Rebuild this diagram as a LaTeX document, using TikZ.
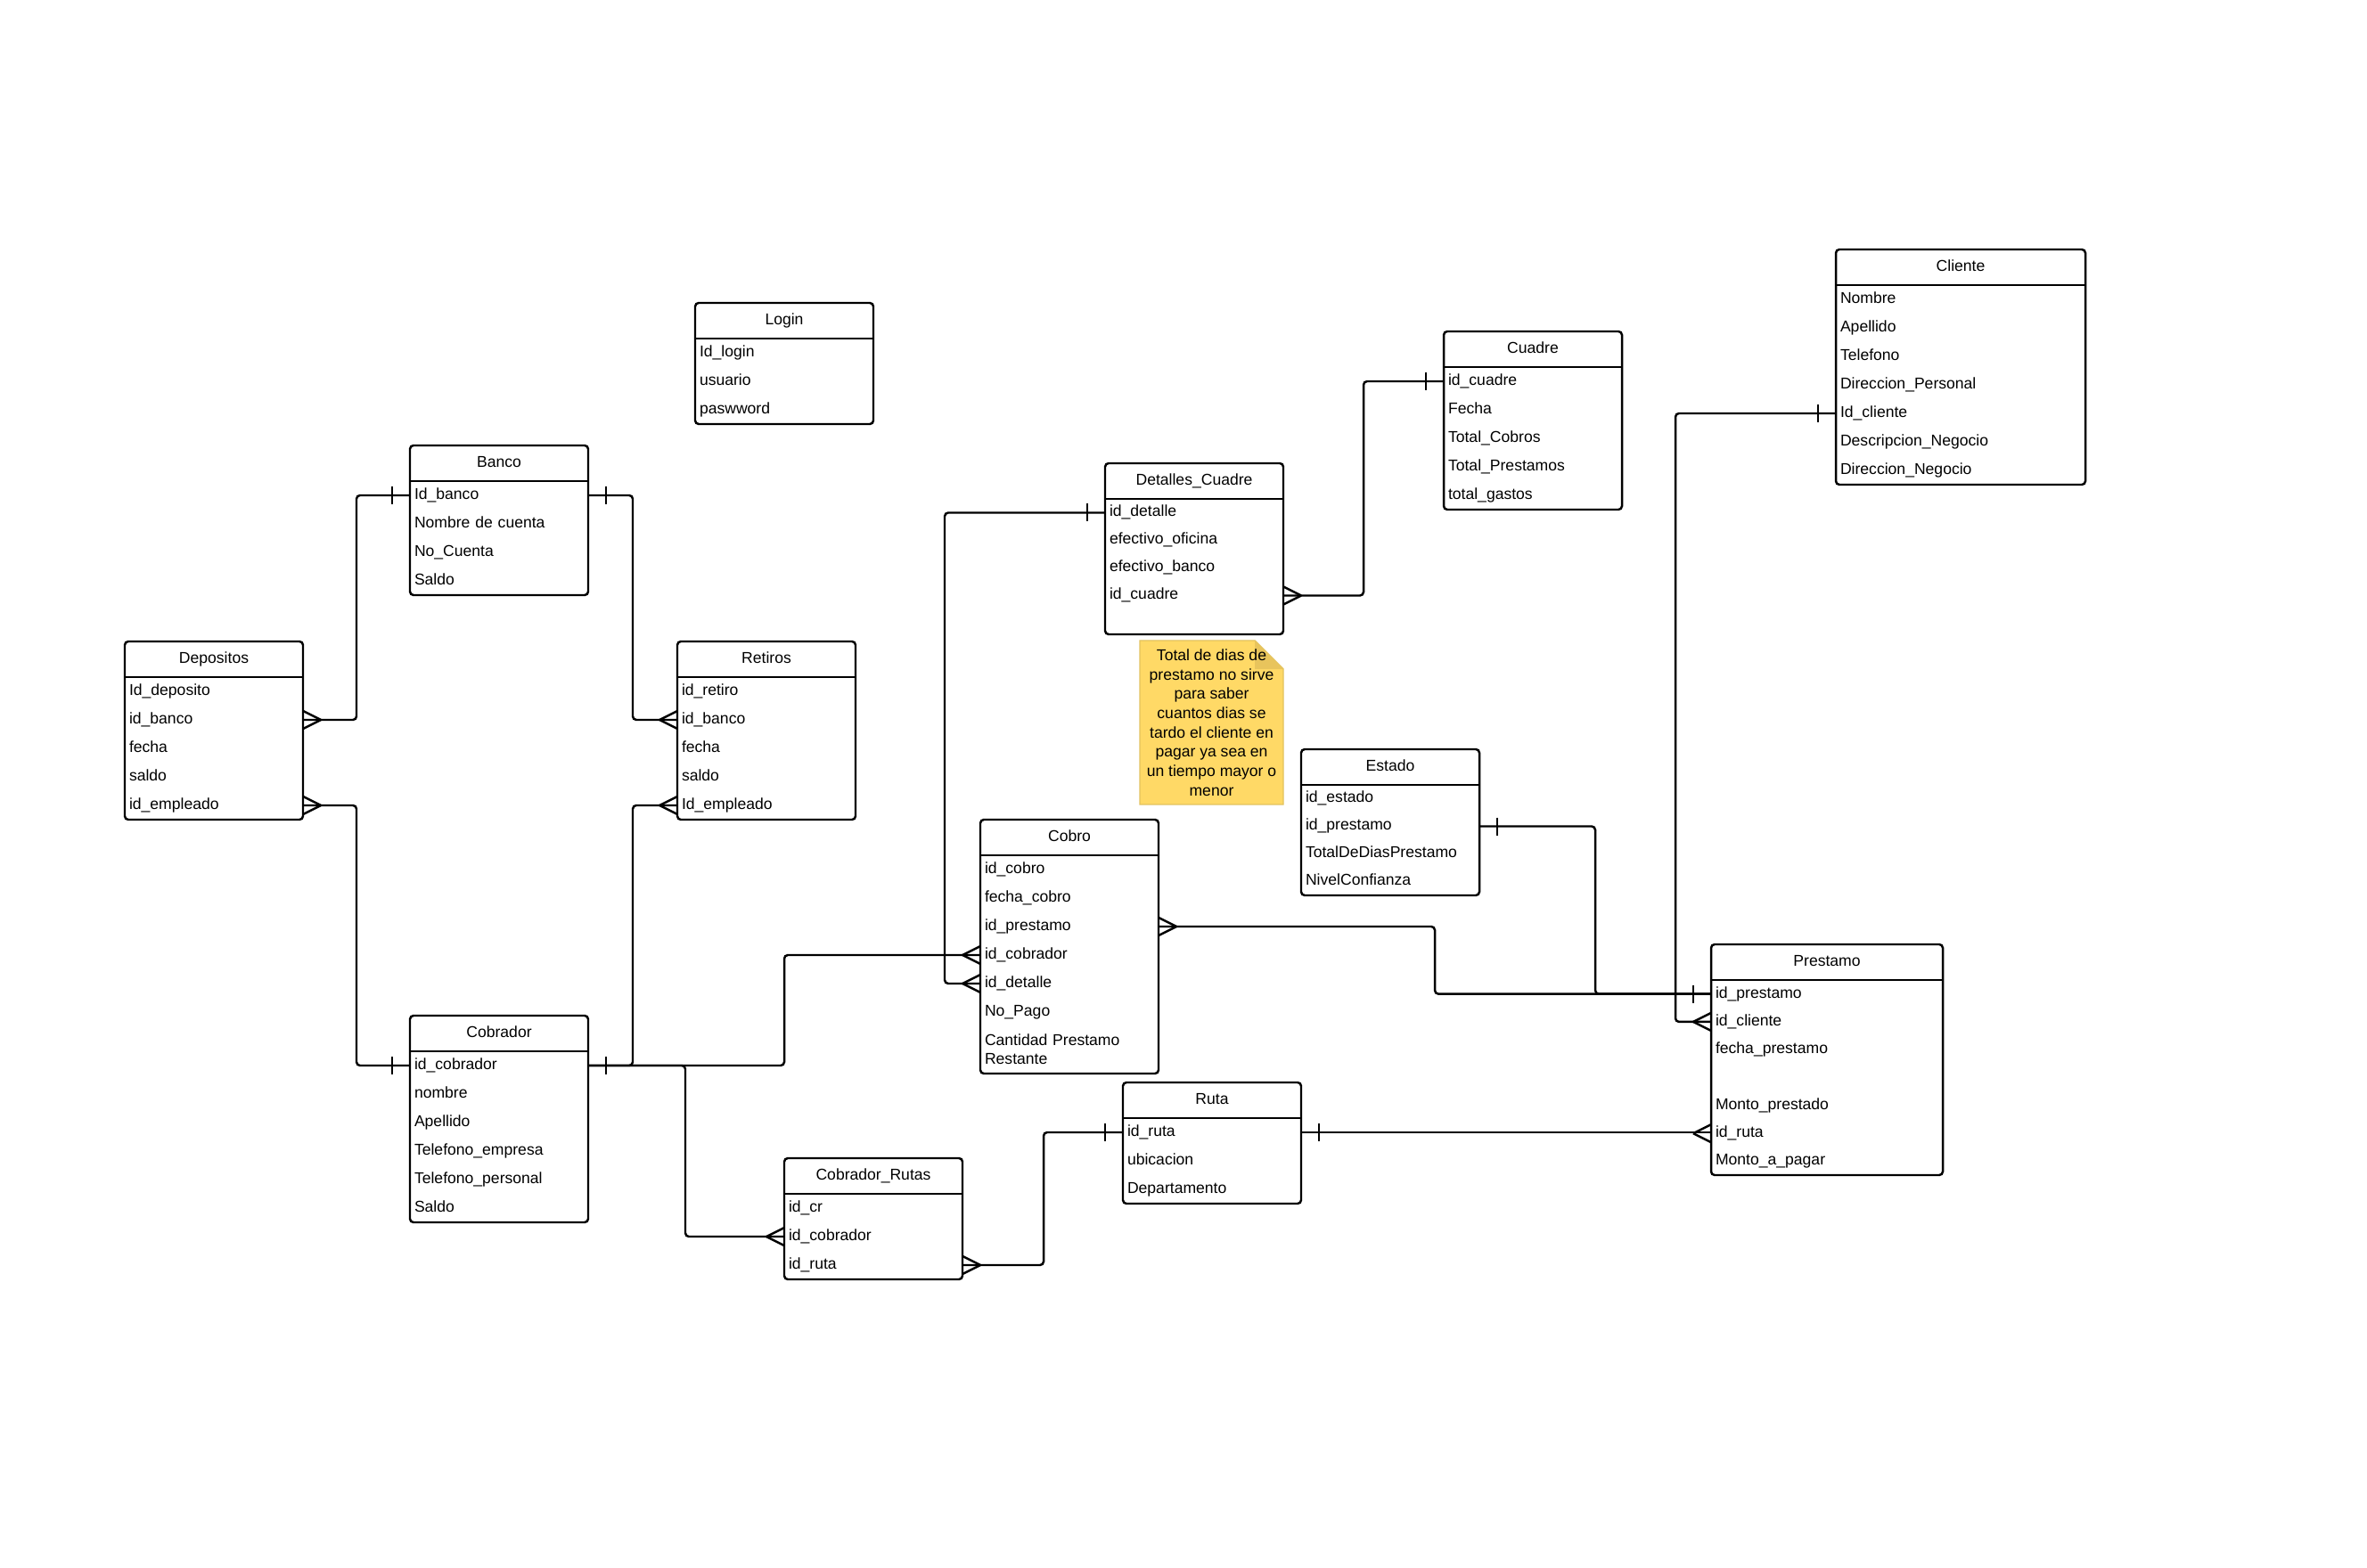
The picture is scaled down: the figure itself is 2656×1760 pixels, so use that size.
\documentclass[tikz,border=0pt]{standalone}
\usepackage{fontspec}
\setmainfont{Liberation Sans}
\usetikzlibrary{shapes,arrows,calc,positioning}
\tikzstyle{box} = [draw, line width=0.7pt, rounded corners=0.4mm]
\tikzstyle{header} = [inner sep=0, outer sep=0, minimum height=4mm, font=\fontsize{5}{6}\selectfont, execute at begin node=\strut]
\tikzstyle{field} = [inner xsep=0.5mm, inner ysep=0, outer sep=0, minimum height=3.2mm, align=left, font=\fontsize{5}{6.2}\selectfont, execute at begin node=\strut]
\tikzstyle{line} = [draw, line width=0.7pt, rounded corners=0.4mm]
\tikzstyle{notebox} = [inner sep=0, outer sep=0, minimum width=16.1mm, minimum height=18.4mm, align=center, font=\fontsize{5}{6.17}\selectfont]
\definecolor{notefill}{HTML}{FFD966}
\definecolor{notefold}{HTML}{E8C45C}
\definecolor{noteline}{HTML}{E3C35E}
\pgfdeclarelayer{background}
\pgfsetlayers{background,main}
% table: [field opts]{name}{x}{y}{width}{height}{title}{fields}
\newcommand{\entity}[8][]{%
  \pgfmathsetmacro{\entw}{#5*0.1}
  \pgfmathsetmacro{\entt}{#5*0.1-1}
  \draw[box] (#3,#4) rectangle ++(#5,#6);
  \node[header, minimum width=\entw mm, anchor=north west] (#2-0) at (#3,#4) {#7};
  \draw[box] (#2-0.south west) -- (#2-0.south east);
  \foreach \f [count=\i, remember=\i as \j (initially 0)] in {#8}
    \node[field, #1, text width=\entt mm, anchor=north west] (#2-\i) at (#2-\j.south west) {\f};
}
% crow's foot and bar ends
\newcommand{\many}[2]{\draw[line] ($(#1)+(#2*20,0)$) -- ($(#1)+(0,-10)$) ($(#1)+(#2*20,0)$) -- ($(#1)+(0,10)$);}
\newcommand{\one}[2]{\draw[line] ($(#1)+(#2*20,-10)$) -- ($(#1)+(#2*20,10)$);}
\begin{document}
\begin{tikzpicture}[x=0.1mm, y=-0.1mm]
    \useasboundingbox (0,0) rectangle (2656,1760);

    % Place tables
    \entity{login}{780}{340}{200}{136}{Login}{Id\_login, usuario, paswword}
    \entity{banco}{460}{500}{200}{168}{Banco}{Id\_banco, Nombre de cuenta, No\_Cuenta, Saldo}
    \entity{depositos}{140}{720}{200}{200}{Depositos}{Id\_deposito, id\_banco, fecha, saldo, id\_empleado}
    \entity{retiros}{760}{720}{200}{200}{Retiros}{id\_retiro, id\_banco, fecha, saldo, Id\_empleado}
    \entity{cobrador}{460}{1140}{200}{232}{Cobrador}{id\_cobrador, nombre, Apellido, Telefono\_empresa, Telefono\_personal, Saldo}
    \entity{cobro}{1100}{920}{200}{285}{Cobro}{id\_cobro, fecha\_cobro, id\_prestamo, id\_cobrador, id\_detalle, No\_Pago, {\rule{0pt}{2.1mm}Cantidad Prestamo\\Restante}}
    \entity{rutas}{880}{1300}{200}{136}{Cobrador\_Rutas}{id\_cr, id\_cobrador, id\_ruta}
    \entity{ruta}{1260}{1215}{200}{136}{Ruta}{id\_ruta, ubicacion, Departamento}
    \entity[minimum height=3.1mm]{detalles}{1240}{520}{200}{192}{Detalles\_Cuadre}{id\_detalle, efectivo\_oficina, efectivo\_banco, id\_cuadre}
    \entity{cuadre}{1620}{372}{200}{200}{Cuadre}{id\_cuadre, Fecha, Total\_Cobros, Total\_Prestamos, total\_gastos}
    \entity[minimum height=3.1mm]{estado}{1460}{841}{200}{164}{Estado}{id\_estado, id\_prestamo, TotalDeDiasPrestamo, NivelConfianza}
    \entity{cliente}{2060}{280}{280}{264}{Cliente}{Nombre, Apellido, Telefono, Direccion\_Personal, Id\_cliente, Descripcion\_Negocio, Direccion\_Negocio}
    \entity[minimum height=3.13mm]{prestamo}{1920}{1060}{260}{259}{Prestamo}{id\_prestamo, id\_cliente, fecha\_prestamo, {}, Monto\_prestado, id\_ruta, Monto\_a\_pagar}
    \node [notebox] (note) at (1359.5,811) {Total de dias de\\prestamo no sirve\\para saber\\cuantos dias se\\tardo el cliente en\\pagar ya sea en\\un tiempo mayor o\\menor};

    % Draw relations
    \path [line] (banco-1.west) -- ++(-60,0) |- (depositos-2.east);
    \path [line] (banco-1.east) -- ++(50,0) |- (retiros-2.west);
    \path [line] (depositos-5.east) -- ++(60,0) |- (cobrador-1.west);
    \path [line] (retiros-5.west) -- ++(-50,0) |- (cobrador-1.east);
    \path [line] (cobrador-1.east) -- ++(220,0) |- (cobro-4.west);
    \path [line] (cobrador-1.east) -- ++(109,0) |- (rutas-2.west);
    \path [line] (rutas-3.east) -- ++(91,0) |- (ruta-1.west);
    \path [line] (ruta-1.east) -- (ruta-1.east -| prestamo-6.west);
    \path [line] (cobro-3.east) -- ++(310,0) |- (prestamo-1.west);
    \path [line] (estado-2.east) -- ++(130,0) |- (prestamo-1.west);
    \path [line] (cliente-5.west) -- ++(-180,0) |- (prestamo-2.west);
    \path [line] (detalles-1.west) -- ++(-180,0) |- (cobro-5.west);
    \path [line] (detalles-4.east) -- ++(90,0) |- (cuadre-1.west);

    % Relation ends
    \one{banco-1.west}{-1} \many{depositos-2.east}{1}
    \one{banco-1.east}{1} \many{retiros-2.west}{-1}
    \many{depositos-5.east}{1} \one{cobrador-1.west}{-1}
    \many{retiros-5.west}{-1} \one{cobrador-1.east}{1}
    \many{cobro-4.west}{-1} \many{rutas-2.west}{-1}
    \many{rutas-3.east}{1} \one{ruta-1.west}{-1}
    \one{ruta-1.east}{1} \many{prestamo-6.west}{-1}
    \many{cobro-3.east}{1} \one{prestamo-1.west}{-1}
    \one{estado-2.east}{1}
    \one{cliente-5.west}{-1} \many{prestamo-2.west}{-1}
    \one{detalles-1.west}{-1} \many{cobro-5.west}{-1}
    \many{detalles-4.east}{1} \one{cuadre-1.west}{-1}

    % The note sits on the background layer, with its folded corner
    \begin{pgfonlayer}{background}
        \fill[white] (0,0) rectangle (2656,1760);
        \path[fill=notefill, draw=noteline, line width=0.4pt] (note.south west) -- (note.north west)
            -- ($(note.north east)+(-32,0)$) -- ($(note.north east)+(0,32)$) -- (note.south east) -- cycle;
        \fill[notefold] ($(note.north east)+(-32,0)$) -- ($(note.north east)+(-32,32)$) -- ($(note.north east)+(0,32)$) -- cycle;
    \end{pgfonlayer}
\end{tikzpicture}
\end{document}
